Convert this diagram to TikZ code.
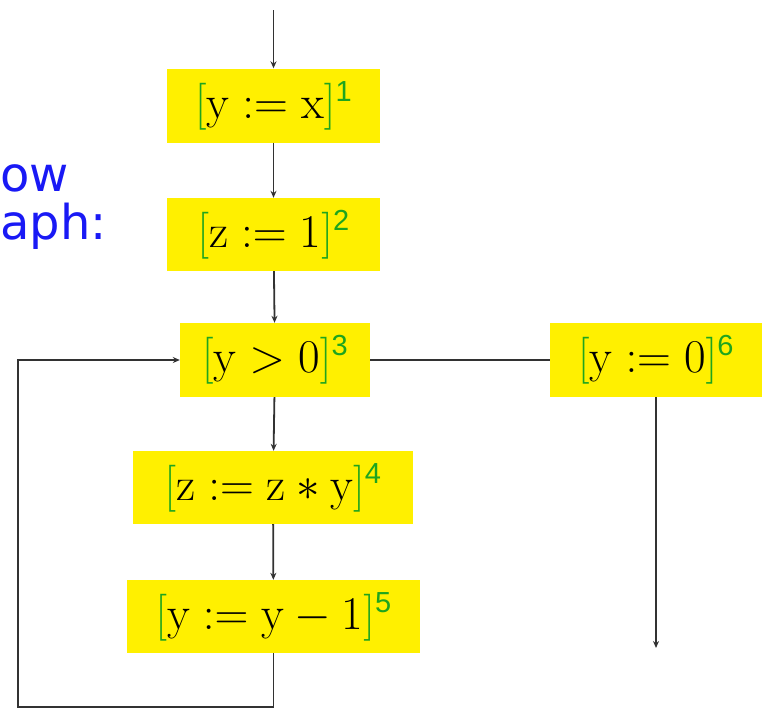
\RequirePackage{fix-cm}
\documentclass[tikz,border=0pt]{standalone}
\usepackage{fontspec}
\newfontfamily\bluefont{DejaVu Sans}
\newfontfamily\supfont{Liberation Sans}
\usetikzlibrary{arrows.meta}
\DeclareMathSizes{47}{47}{32}{24}
\definecolor{boxyellow}{RGB}{255,240,0}
\definecolor{labgreen}{RGB}{30,165,30}
\definecolor{textblue}{RGB}{25,25,245}
\definecolor{linegray}{RGB}{50,50,50}
\newcommand{\blk}[2]{$\textcolor{labgreen}{[}\mathrm{#1}\textcolor{labgreen}{]}^{\mbox{\supfont\fontsize{29}{31}\selectfont\color{labgreen}#2}}$}
\tikzset{
  blockbox/.style={fill=boxyellow, inner sep=0pt, minimum height=74pt, font=\fontsize{47}{52}\selectfont},
  flow/.style={draw=linegray, line width=1.8pt, -{Stealth[length=7pt,width=6pt]}},
  plainflow/.style={draw=linegray, line width=1.8pt},
  bluetext/.style={text=textblue, font=\bluefont\fontsize{48}{50}\selectfont, anchor=west, inner sep=0pt}
}
\begin{document}
\begin{tikzpicture}[x=1pt,y=-1pt]
\useasboundingbox (0,0) rectangle (762,710);
\node[bluetext] (t1) at (0,178) {ow};
\node[bluetext] (t2) at (0,226) {aph:};
\node[blockbox, minimum width=213pt] (n1) at (273.5,105.5) {\blk{y := x}{1}};
\node[blockbox, minimum width=213pt, minimum height=73pt] (n2) at (273.5,234.5) {\blk{z := 1}{2}};
\node[blockbox, minimum width=190pt] (n3) at (275,360) {\blk{y > 0}{3}};
\node[blockbox, minimum width=212pt] (n6) at (656,360) {\blk{y := 0}{6}};
\node[blockbox, minimum width=280pt, minimum height=73pt] (n4) at (273,487.5) {\blk{z := z * y}{4}};
\node[blockbox, minimum width=293pt, minimum height=73pt] (n5) at (273.5,616.5) {\blk{y := y - 1}{5}};
\coordinate (start) at (273.5,10);
\coordinate (end6) at (656,648);
\coordinate (lb) at (273.5,707);
\coordinate (ll) at (18,707);
\coordinate (lt) at (18,360);
\draw[flow] (start) -- (n1.north);
\draw[flow] (n1) -- (n2);
\draw[flow] (n2) -- (n3);
\draw[flow] (n3) -- (n4);
\draw[flow] (n4) -- (n5);
\draw[plainflow] (n3) -- (n6);
\draw[flow] (n6.south) -- (end6);
\draw[flow] (n5.south) -- (lb) -- (ll) -- (lt) -- (n3.west);
\end{tikzpicture}
\end{document}
